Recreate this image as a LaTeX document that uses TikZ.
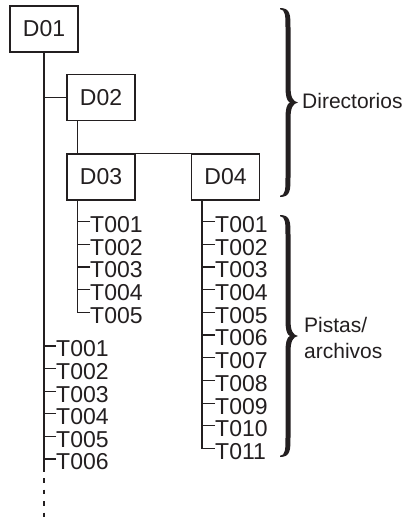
\documentclass[tikz,border=0pt]{standalone}
\usepackage{fontspec}
\setmainfont{Liberation Sans}
\usepackage{xcolor}
\usetikzlibrary{positioning}
\definecolor{inkc}{HTML}{231F20}
\tikzset{
  dbox/.style={draw=inkc,line width=1.2pt,minimum width=68pt,minimum height=46pt,inner sep=0pt,text=inkc,font=\fontsize{23}{23}\selectfont},
  fname/.style={anchor=west,inner sep=0pt,text=inkc,font=\fontsize{23}{23}\selectfont},
  ln/.style={draw=inkc,line width=1.2pt},
  lab/.style={anchor=west,align=left,inner sep=0pt,text=inkc,font=\fontsize{21}{26.5}\selectfont}
}
% filled curly brace: x, top y, bottom y
\newcommand{\filledbrace}[3]{%
  \pgfmathsetmacro\bym{(#2+#3)/2}
  \fill[inkc] (#1,#2)
    .. controls (#1+10.5,#2) and (#1+10.5,#2+7) .. (#1+10.5,#2+20)
    -- (#1+10.5,\bym-16)
    .. controls (#1+10.5,\bym-5) and (#1+13,\bym-1) .. (#1+18,\bym)
    .. controls (#1+13,\bym+1) and (#1+10.5,\bym+5) .. (#1+10.5,\bym+16)
    -- (#1+10.5,#3-20)
    .. controls (#1+10.5,#3-7) and (#1+10.5,#3) .. (#1,#3)
    -- (#1,#3-1.2)
    .. controls (#1+5.5,#3-1.5) and (#1+5.5,#3-8) .. (#1+5.5,#3-20)
    -- (#1+5.5,\bym+16)
    .. controls (#1+5.5,\bym+6) and (#1+7,\bym+1) .. (#1+10,\bym)
    .. controls (#1+7,\bym-1) and (#1+5.5,\bym-6) .. (#1+5.5,\bym-16)
    -- (#1+5.5,#2+20)
    .. controls (#1+5.5,#2+8) and (#1+5.5,#2+1.5) .. (#1,#2+1.2) -- cycle;
}

\begin{document}
\begin{tikzpicture}[x=1pt,y=-1pt]
\useasboundingbox (0,0) rectangle (411,517);
% directories
\node[dbox] (D01) at (44,29) {D01};
\node[dbox] (D02) at (101,97.5) {D02};
\node[dbox] (D03) at (101,177) {D03};
\node[dbox] (D04) at (225.5,177) {D04};
\coordinate (trunkend) at (44,472);
\coordinate (dashtop) at (44,478);
\coordinate (trunkfoot) at (44,517);
\draw[ln] (D01.south) -- (trunkend);
\draw[ln,dash pattern=on 4.5pt off 7pt] (dashtop) -- (trunkfoot);
\draw[ln] (D02.west -| D01.south) -- (D02.west);
\draw[ln] ([xshift=11pt]D02.south west) -- ([xshift=11pt]D03.north west);
\draw[ln] (D03.north east) -- (D04.north west);
% tracks / files
\foreach \i in {1,...,5}
  \node[fname] (a\i) at (90,{224.5+22.7*(\i-1)}) {T00\i};
\foreach \i in {1,...,11}
  \node[fname] (b\i) at (215,{224.5+22.7*(\i-1)}) {T0\ifnum\i<10 0\fi\i};
\foreach \i in {1,...,6}
  \node[fname] (c\i) at (56,{349+22.6*(\i-1)}) {T00\i};
\draw[ln] ([xshift=11pt]D03.south west) |- ([yshift=3pt]a5.west);
\foreach \i in {1,...,4}
  \draw[ln] ([yshift=3pt]a\i.west) -- ++(-12,0);
\draw[ln] ([xshift=11pt]D04.south west) |- ([yshift=3pt]b11.west);
\foreach \i in {1,...,10}
  \draw[ln] ([yshift=3pt]b\i.west) -- ++(-12,0);
\foreach \i in {1,...,6}
  \draw[ln] ([yshift=3pt]c\i.west) -- ++(-12,0);
% braces
\filledbrace{280}{8}{197}
\filledbrace{280}{215}{457}
\node[lab] (dirlab) at (302,101) {Directorios};
\node[lab] (pislab) at (304,338) {Pistas/\\archivos};
\end{tikzpicture}
\end{document}
